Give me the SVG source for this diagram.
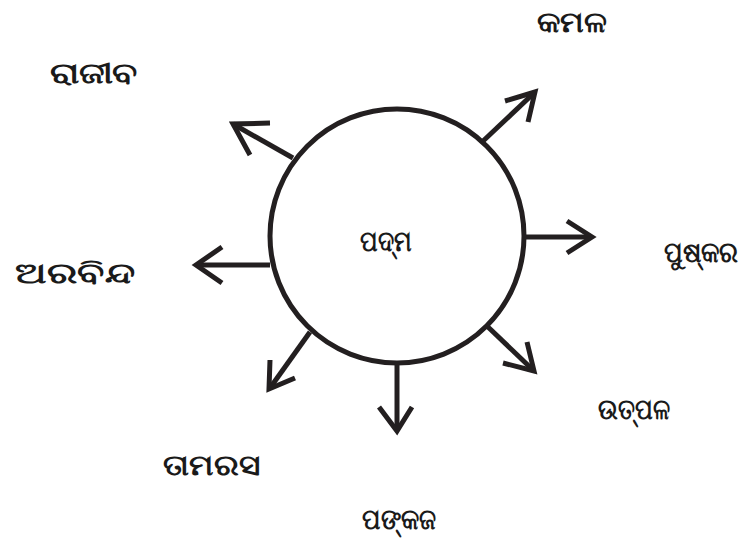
<svg xmlns="http://www.w3.org/2000/svg" width="744" height="539" viewBox="0 0 744 539">
<style>
.lbl{font-family:"Noto Sans","DejaVu Sans",sans-serif;font-size:29px;font-weight:bold;fill:#1a1a1a;}
.ln{fill:none;stroke:#231f20;stroke-width:5;stroke-linecap:butt;stroke-linejoin:miter;}
</style>
<rect width="744" height="539" fill="#ffffff"/>
<g id="center">
<circle cx="397" cy="236" r="127" class="ln"/>
<text class="lbl" x="360" y="251" textLength="52" lengthAdjust="spacingAndGlyphs">ପଦ୍ମ</text>
</g>
<g id="connectors">
<path class="ln" d="M482,142 L534,93"/><path class="ln" d="M505,101 L535,92 L528,122"/>
<path class="ln" d="M293,158 L233,124"/><path class="ln" d="M270,123 L233,124 L250,155"/>
<path class="ln" d="M270,265 L196,265"/><path class="ln" d="M222,247 L196,265 L222,283"/>
<path class="ln" d="M524,237 L592,237"/><path class="ln" d="M567,221 L592,237 L567,253"/>
<path class="ln" d="M488,327 L533,370"/><path class="ln" d="M527,342 L534,371 L503,363"/>
<path class="ln" d="M397,363 L397,430"/><path class="ln" d="M379,407 L397,431 L412,407"/>
<path class="ln" d="M310,332 L270,388"/><path class="ln" d="M270,360 L269,389 L295,378"/>
</g>
<g id="kamala"><text class="lbl" x="537" y="32" textLength="70" lengthAdjust="spacingAndGlyphs">କମଳ</text></g>
<g id="rajiba"><text class="lbl" x="50" y="83" textLength="88" lengthAdjust="spacingAndGlyphs">ରାଜୀବ</text></g>
<g id="arabinda"><text class="lbl" x="15" y="283" textLength="120" lengthAdjust="spacingAndGlyphs">ଅରବିନ୍ଦ</text></g>
<g id="puskara"><text class="lbl" x="738" y="262" font-size="26" text-anchor="end" textLength="74" lengthAdjust="spacingAndGlyphs">ପୁଷ୍କର</text></g>
<g id="utpala"><text class="lbl" x="598" y="419" textLength="72" lengthAdjust="spacingAndGlyphs">ଉତ୍ପଳ</text></g>
<g id="tamarasa"><text class="lbl" x="163" y="475" textLength="97" lengthAdjust="spacingAndGlyphs">ତାମରସ</text></g>
<g id="pankaja"><text class="lbl" x="362" y="529" textLength="74" lengthAdjust="spacingAndGlyphs">ପଙ୍କଜ</text></g>
</svg>
